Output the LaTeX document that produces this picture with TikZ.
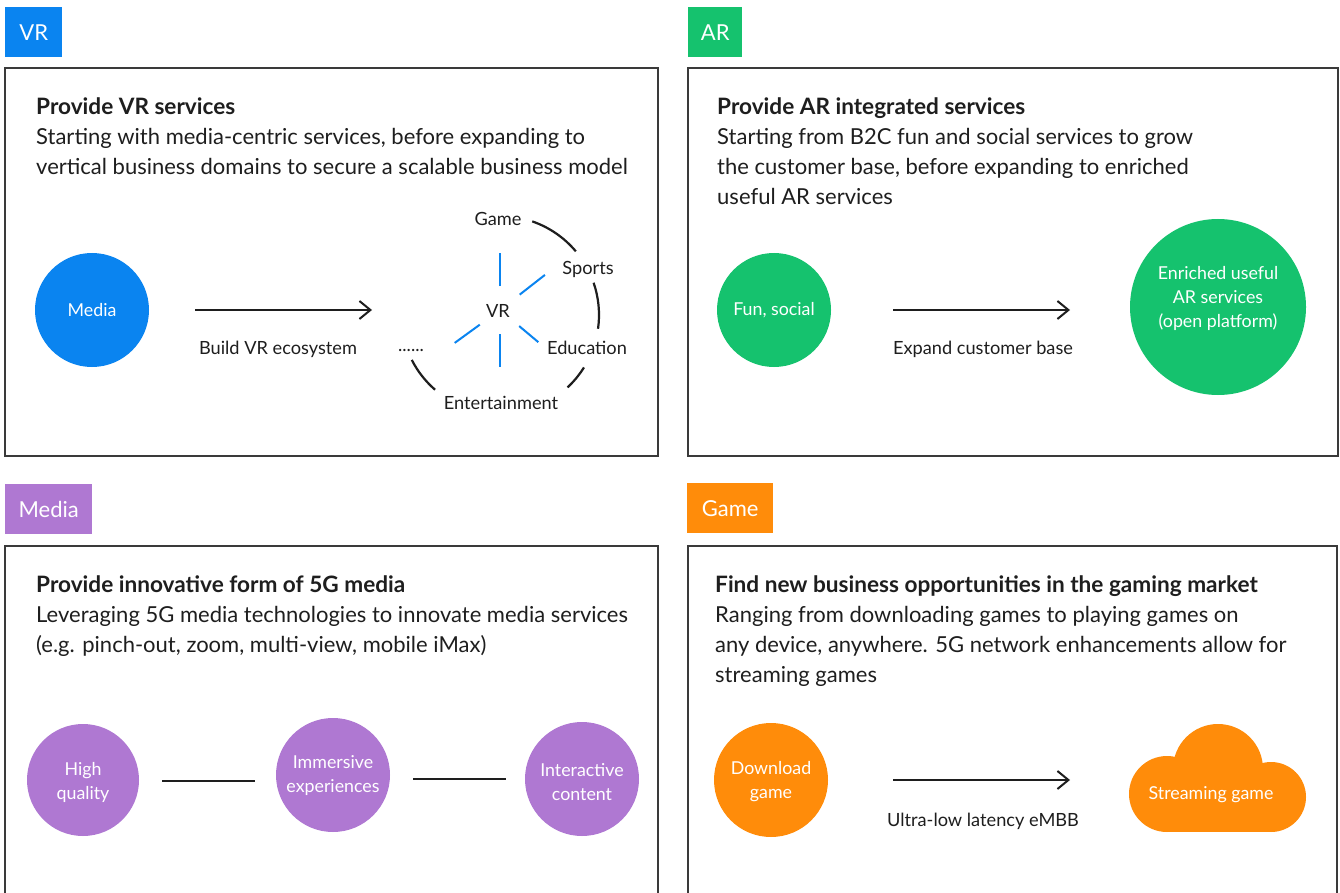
\documentclass[tikz,border=0pt]{standalone}
\usepackage{fontspec}
\setmainfont{Lato}
\usetikzlibrary{arrows.meta,calc}
\definecolor{vrblue}{HTML}{0A84F0}
\definecolor{argreen}{HTML}{15C26E}
\definecolor{mpurple}{HTML}{AF78D2}
\definecolor{gorange}{HTML}{FF8C0A}
\definecolor{txt}{HTML}{1E1E1E}
\definecolor{frame}{HTML}{3A3A3A}
\newcommand\mybody{\fontsize{22}{30}\selectfont}
\newcommand\mytitle{\fontsize{22.6}{30}\selectfont\bfseries}
\newcommand\mylabel{\fontsize{18.2}{24}\selectfont}
\newcommand\mycirc{\fontsize{17.8}{24}\selectfont}
\begin{document}
\begin{tikzpicture}[x=1pt,y=-1pt,
  boxline/.style={draw=frame,line width=1.3pt},
  tag/.style={anchor=north west,inner sep=0,minimum height=50pt,text=white,font=\mybody},
  ttl/.style={anchor=base west,inner sep=0,text=txt,font=\mytitle},
  bod/.style={anchor=base west,inner sep=0,text=txt,font=\mybody},
  lab/.style={inner sep=0,text=txt,font=\mylabel},
  circ/.style={circle,inner sep=0,outer sep=0,text=white,font=\mycirc,align=center},
  arr/.style={draw=txt,line width=2pt,-{Straight Barb[length=11pt,width=18pt,line width=2pt]}},
  plain/.style={draw=txt,line width=2.5pt},
  spoke/.style={draw=vrblue,line width=2pt},
  arcline/.style={draw=txt,line width=2.2pt}]
\useasboundingbox (0,0) rectangle (1340,893);
\fill[white] (0,0) rectangle (1340,893);

% ---------- VR ----------
\node[tag,fill=vrblue,minimum width=57pt] (tvr) at (5,7) {VR};
\draw[boxline] (5,68) rectangle (658,456);
\node[ttl] (t1) at (36,115) {Provide VR services};
\node[bod] (b1a) at (36,145) {Starting with media-centric services, before expanding to};
\node[bod] (b1b) at (36,175) {vertical business domains to secure a scalable business model};
\node[circ,fill=vrblue,minimum size=114pt] (media) at (92,310) {Media};
\coordinate (a1e) at (372,310);
\draw[arr,shorten <=46pt] (media.east) -- (a1e);
\node[lab,anchor=mid] (l1) at (278,352) {Build VR ecosystem};
\coordinate (vrc) at (500,310);
\coordinate (arcc) at (500,315);
\node[lab,anchor=mid] (vr) at (498,315) {VR};
\node[lab,anchor=mid] (game) at (498,223) {Game};
\node[lab,anchor=mid] (sports) at (588,272) {Sports};
\node[lab,anchor=mid] (edu) at (587,352) {Education};
\node[lab,anchor=mid] (ent) at (501,407) {Entertainment};
\node[lab,anchor=base] (dots) at (411,351) {......};
\draw[spoke] (vrc) ++(90:24pt) -- ++(90:33pt);
\draw[spoke] (vrc) ++(38:25pt) -- ++(38:32pt);
\draw[spoke] (vrc) ++(-40:25pt) -- ++(-40:25pt);
\draw[spoke] (vrc) ++(-90:24pt) -- ++(-90:33pt);
\draw[spoke] (vrc) ++(216:25pt) -- ++(216:31pt);
\draw[arcline] (arcc) ++(71:99pt) arc[start angle=71,end angle=40,radius=99pt];
\draw[arcline] (arcc) ++(19:99pt) arc[start angle=19,end angle=-8,radius=99pt];
\draw[arcline] (arcc) ++(-32:99pt) arc[start angle=-32,end angle=-47,radius=99pt];
\draw[arcline] (arcc) ++(207:99pt) arc[start angle=207,end angle=229,radius=99pt];

% ---------- AR ----------
\node[tag,fill=argreen,minimum width=54pt] (tar) at (688,7) {AR};
\draw[boxline] (688,68) rectangle (1338,456);
\node[ttl] (t2) at (717,115) {Provide AR integrated services};
\node[bod] (b2a) at (717,145) {Starting from B2C fun and social services to grow};
\node[bod] (b2b) at (717,175) {the customer base, before expanding to enriched};
\node[bod] (b2c) at (717,205) {useful AR services};
\node[circ,fill=argreen,minimum size=114pt] (fun) at (774,310) {Fun, social};
\node[circ,fill=argreen,minimum size=176pt] (enr) at (1218,307) {};
\node[circ,anchor=center] (enrt) at (1218,298) {Enriched useful\\AR services\\(open platform)};
\draw[arr,shorten <=62pt,shorten >=60pt] (fun.east) -- (fun.east -| enr.west);
\node[lab,anchor=mid] (l2) at (983,352) {Expand customer base};

% ---------- Media ----------
\node[tag,fill=mpurple,minimum width=87pt] (tmed) at (5,484) {Media};
\draw[boxline] (5,893) -- (5,546) -- (658,546) -- (658,893);
\node[ttl] (t3) at (36,592) {Provide innovative form of 5G media};
\node[bod] (b3a) at (36,622) {Leveraging 5G media technologies to innovate media services};
\node[bod] (b3b) at (36,652) {(e.g. pinch-out, zoom, multi-view, mobile iMax)};
\node[circ,fill=mpurple,minimum size=112pt] (high) at (83,780) {};
\node[circ] (hight) at (83,782) {High\\quality};
\node[circ,fill=mpurple,minimum size=114pt] (imm) at (333,775) {};
\node[circ] (immt) at (333,776) {Immersive\\experiences};
\node[circ,fill=mpurple,minimum size=114pt] (inter) at (582,779) {};
\node[circ] (intert) at (582,782) {Interactive\\content};
\draw[plain,shorten <=23pt,shorten >=21pt] ([yshift=-1pt]high.east) -- ([yshift=-1pt]high.east -| imm.west);
\draw[plain,shorten <=23pt,shorten >=19pt] (inter.west -| imm.east) -- (inter.west);

% ---------- Game ----------
\node[tag,fill=gorange,minimum width=86pt] (tgame) at (687,483) {Game};
\draw[boxline] (688,893) -- (688,546) -- (1337,546) -- (1337,893);
\node[ttl] (t4) at (715,592) {Find new business opportunities in the gaming market};
\node[bod] (b4a) at (715,622) {Ranging from downloading games to playing games on};
\node[bod] (b4b) at (715,652) {any device, anywhere. 5G network enhancements allow for};
\node[bod] (b4c) at (715,682) {streaming games};
\node[circ,fill=gorange,minimum size=114pt] (dl) at (771,780) {};
\node[circ] (dlt) at (771,782) {Download\\game};
\fill[gorange] (1167,794) circle[radius=38pt];
\fill[gorange] (1271,797) circle[radius=35pt];
\fill[gorange] (1218,769) circle[radius=45pt];
\fill[gorange] (1167,770) rectangle (1271,832);
\node[circ,anchor=mid] (cloud) at (1211,797) {Streaming game};
\coordinate (a4e) at (1070,780);
\draw[arr,shorten <=65pt] (dl.east) -- (a4e);
\node[lab,anchor=mid] (l4) at (983,824) {Ultra-low latency eMBB};
\end{tikzpicture}
\end{document}
